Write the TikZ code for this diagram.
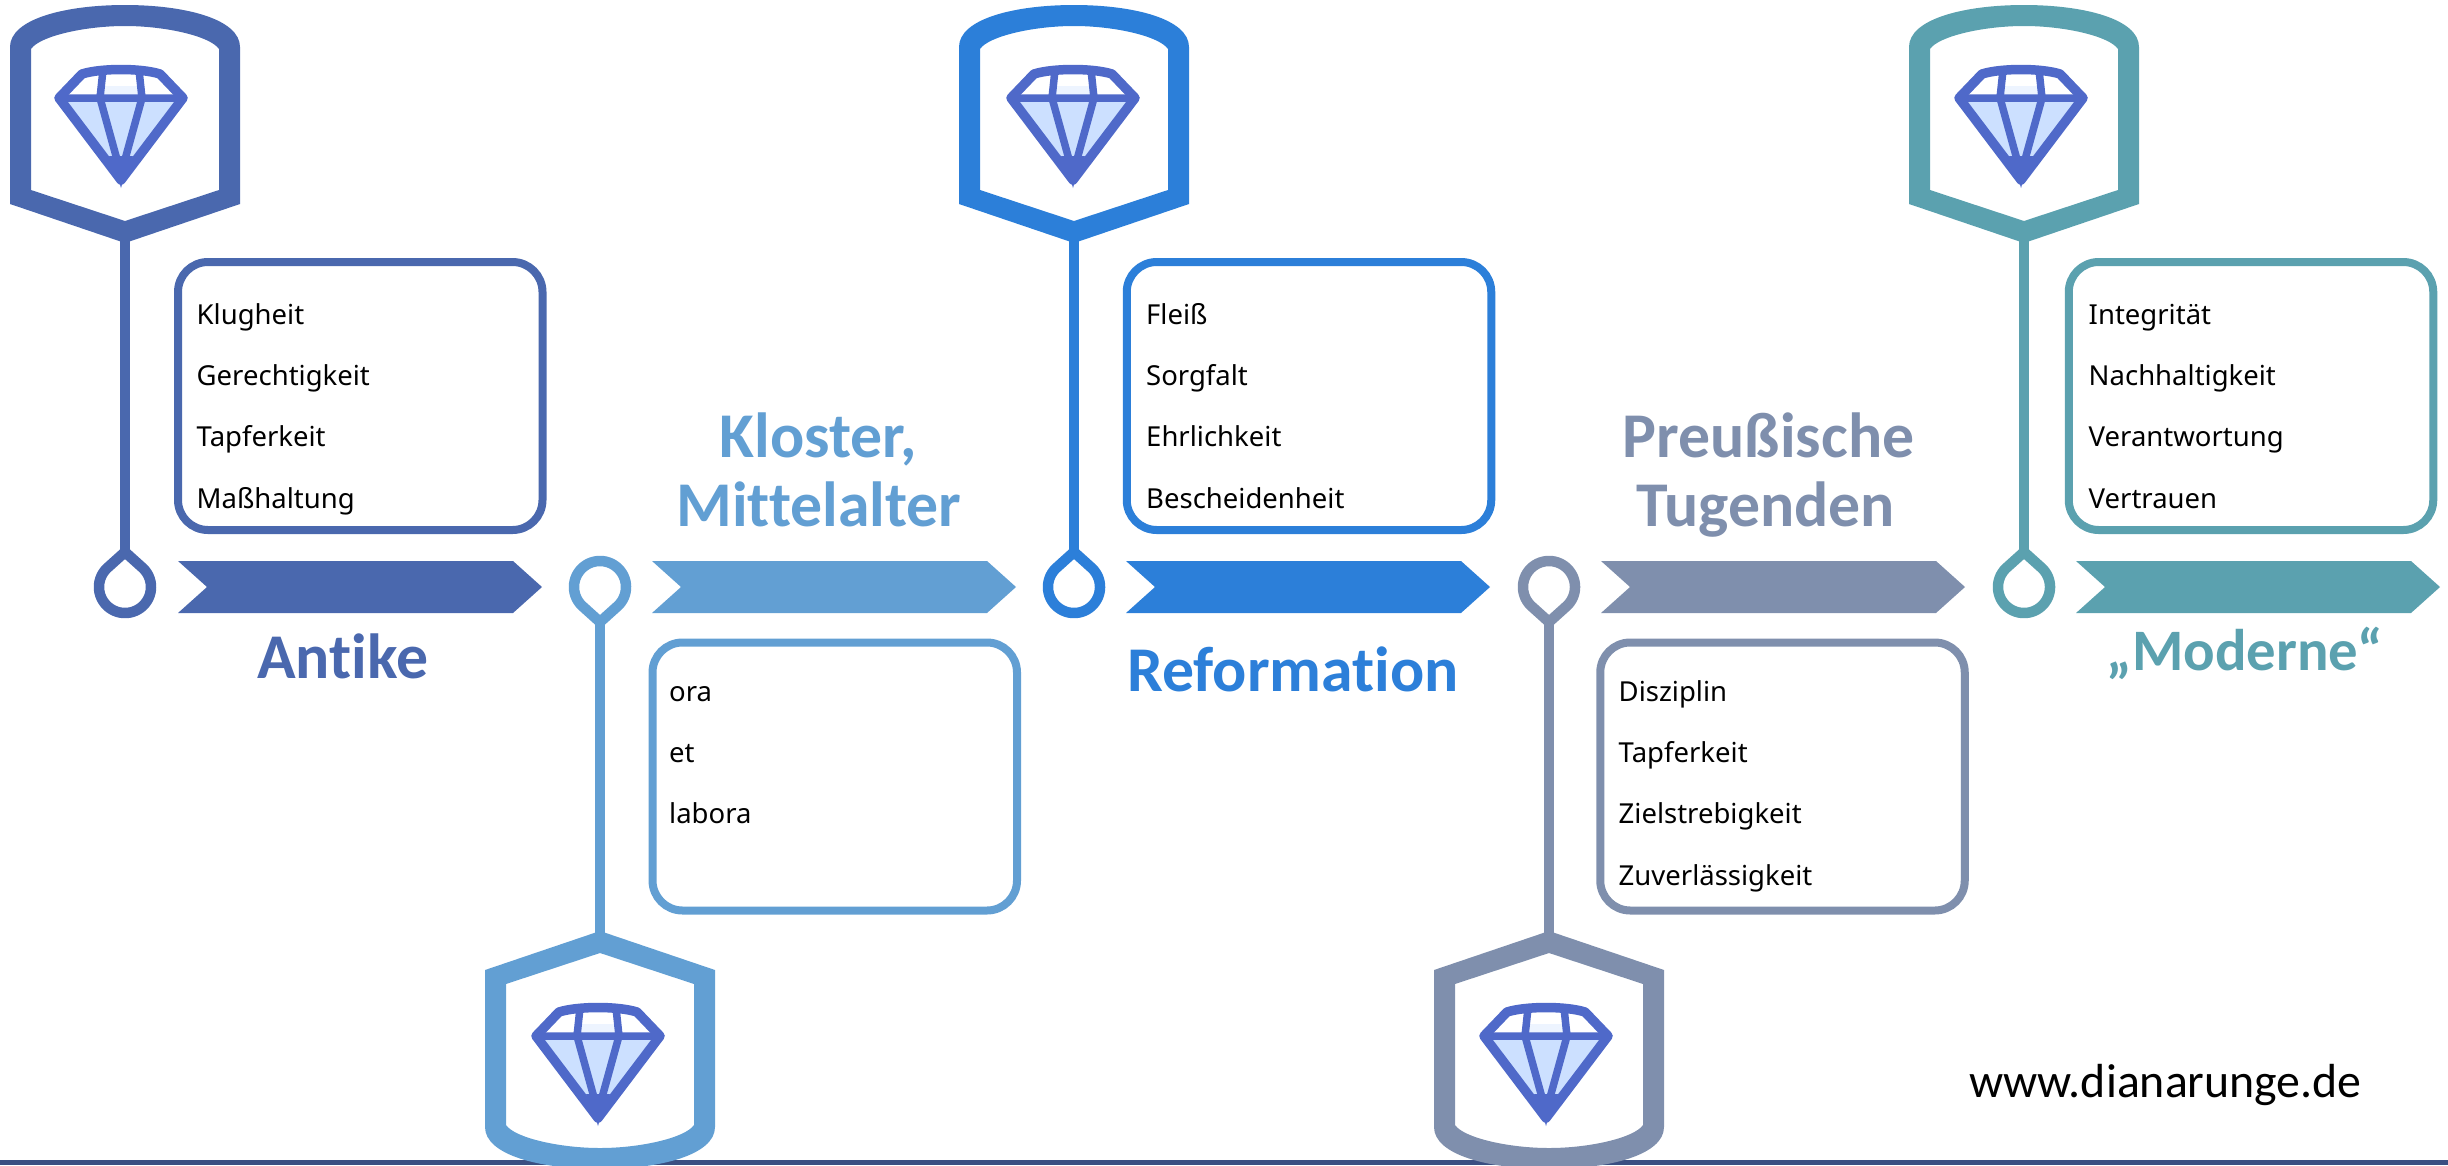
\documentclass[tikz,border=0pt]{standalone}
\usepackage{fontspec}
\setmainfont{Noto Sans}
\newfontfamily\titlefont{Carlito}[BoldFont={Carlito Bold},Ligatures=NoCommon]
\definecolor{cA}{HTML}{4A68AE}
\definecolor{cB}{HTML}{629FD3}
\definecolor{cC}{HTML}{2C7FD9}
\definecolor{cD}{HTML}{7F8FAD}
\definecolor{cE}{HTML}{5BA1AF}
\definecolor{gemline}{HTML}{4F69C9}
\definecolor{gemfill}{HTML}{CCE0FF}
\definecolor{bandcol}{HTML}{3B4F82}
\tikzset{
  infobox/.style={draw=#1,line width=8bp,rounded corners=30bp,minimum width=364.5bp,minimum height=268bp,inner sep=0pt,fill=white},
  virtue/.style={anchor=base west,inner sep=0pt,font=\fontsize{27.6}{28}\selectfont,text=black},
  heading/.style={anchor=base,inner sep=0pt,text=#1,font=\titlefont\bfseries\fontsize{64}{64}\selectfont},
}
% name, colour, bulb x, direction (1 up, -1 down)
\newcommand{\milestone}[4]{%
  \begin{scope}[shift={(#3,587)},yscale=#4]
    \coordinate (#1tip) at (0,-346);
    \coordinate (#1bulb) at (0,-38);
    \draw[#2,line width=10.5bp] (#1tip) -- (#1bulb);
    \fill[#2,even odd rule]
      (-115,-383) -- (-115,-540) .. controls (-115,-568) and (-60,-582) .. (0,-582)
      .. controls (60,-582) and (115,-568) .. (115,-540) -- (115,-383) -- (0,-344) -- cycle
      (-94,-397) -- (-94,-538) .. controls (-85,-551) and (-40,-561) .. (0,-561)
      .. controls (40,-561) and (85,-551) .. (94,-538) -- (94,-397) -- (0,-366) -- cycle;
    \draw[#2,line width=10.5bp,line join=miter,fill=white] (0,-35) -- plot[domain=-48:228,samples=80] ({26*cos(\x)},{26*sin(\x)}) -- cycle;
  \end{scope}}
% gem: centre x, top y
\newcommand{\gem}[2]{%
  \begin{scope}[shift={(#1,#2)}]
    \fill[gemfill] (-62,34) -- (62,34) -- (0,116) -- cycle;
    \fill[gemfill!35] (-18,22) rectangle (18,34);
    \draw[gemline,line width=9.5bp,line join=round,line cap=round]
      (-62,34) -- (-39,10) .. controls (-20,4) and (20,4) .. (39,10) -- (62,34) -- (0,116) -- cycle;
    \draw[gemline,line width=7.5bp,line cap=round]
      (-62,34) -- (62,34)
      (-18,6) -- (-21,34) -- (0,110) -- (21,34) -- (18,6);
    \fill[gemline] (-12,92) -- (12,92) -- (2,120) -- (-2,120) -- cycle;
  \end{scope}}
% colour, x offset
\newcommand{\chevron}[2]{%
  \fill[#1,shift={(#2,0)}] (178,561) -- (513,561) -- (542,587) -- (513,613) -- (178,613) -- (207,587) -- cycle;}
\begin{document}
\begin{tikzpicture}[x=1bp,y=-1bp]
\useasboundingbox (0,0) rectangle (2448,1165);
\fill[bandcol] (0,1160) rectangle (2448,1165);

\milestone{a}{cA}{125}{1}
\milestone{b}{cB}{600}{-1}
\milestone{c}{cC}{1074}{1}
\milestone{d}{cD}{1549}{-1}
\milestone{e}{cE}{2024}{1}

\gem{121}{64}
\gem{598}{1002}
\gem{1073}{64}
\gem{1546}{1002}
\gem{2021}{64}

\chevron{cA}{0}
\chevron{cB}{474}
\chevron{cC}{948}
\chevron{cD}{1423}
\chevron{cE}{1898}

\node[infobox=cA] (boxa) at (360.25,396) {};
\node[infobox=cB] (boxb) at (834.75,776.5) {};
\node[infobox=cC] (boxc) at (1309,396) {};
\node[infobox=cD] (boxd) at (1782.5,776.5) {};
\node[infobox=cE] (boxe) at (2251,396) {};

\node[virtue] (a1) at (196.5,324) {Klugheit};
\node[virtue] (a2) at (196.5,385) {Gerechtigkeit};
\node[virtue] (a3) at (196.5,446) {Tapferkeit};
\node[virtue] (a4) at (196.5,508) {Maßhaltung};

\node[virtue] (b1) at (669,701) {ora};
\node[virtue] (b2) at (669,762) {et};
\node[virtue] (b3) at (669,823.5) {labora};

\node[virtue] (c1) at (1146,324) {Fleiß};
\node[virtue] (c2) at (1146,385) {Sorgfalt};
\node[virtue] (c3) at (1146,446) {Ehrlichkeit};
\node[virtue] (c4) at (1146,508) {Bescheidenheit};

\node[virtue] (d1) at (1618.5,701) {Disziplin};
\node[virtue] (d2) at (1618.5,762) {Tapferkeit};
\node[virtue] (d3) at (1618.5,823.5) {Zielstrebigkeit};
\node[virtue] (d4) at (1618.5,885) {Zuverlässigkeit};

\node[virtue] (e1) at (2088.5,324) {Integrität};
\node[virtue] (e2) at (2088.5,385) {Nachhaltigkeit};
\node[virtue] (e3) at (2088.5,446) {Verantwortung};
\node[virtue] (e4) at (2088.5,508) {Vertrauen};

\node[heading=cA] (ta) at (342.5,678) {Antike};
\node[heading=cB] (tb1) at (818.5,457) {Kloster,};
\node[heading=cB] (tb2) at (819,526) {Mittelalter};
\node[heading=cC] (tc) at (1293,691) {Reformation};
\node[heading=cD] (td1) at (1768.5,457) {Preußische};
\node[heading=cD] (td2) at (1765.5,526) {Tugenden};
\node[heading=cE,font=\titlefont\bfseries\fontsize{59}{59}\selectfont] (te) at (2245,670) {„Moderne“};

\node[anchor=base east,inner sep=0pt,font=\titlefont\fontsize{48}{48}\selectfont] (url) at (2362,1097) {www.dianarunge.de};
\end{tikzpicture}
\end{document}
